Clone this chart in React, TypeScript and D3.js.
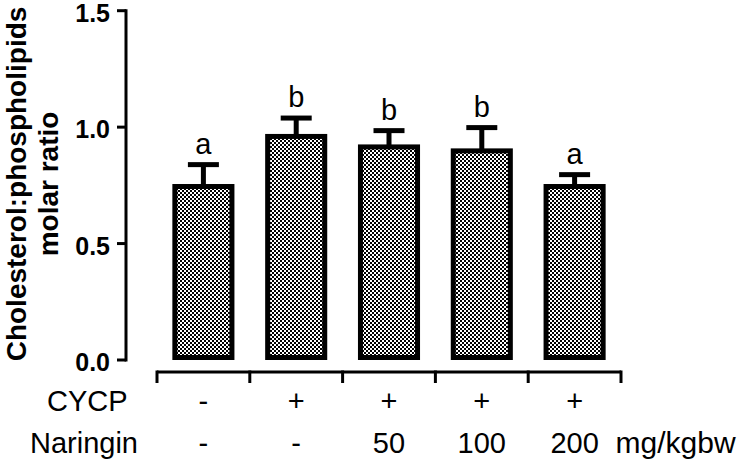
import React, { useEffect, useRef } from "react";
import * as d3 from "d3";

const groups = ["g1", "g2", "g3", "g4", "g5"];
const means = [0.745, 0.96, 0.915, 0.898, 0.745];
const sems = [0.094, 0.079, 0.07, 0.1, 0.051];
const letters = ["a", "b", "b", "b", "a"];
const cycpRow = ["-", "+", "+", "+", "+"];
const naringinRow = ["-", "-", "50", "100", "200"];
const yTicks = [0, 0.5, 1.0, 1.5];

const App = () => {
  const ref = useRef<SVGSVGElement>(null);

  useEffect(() => {
    const width = 750;
    const height = 463;
    const svg = d3.select(ref.current);
    svg.selectAll("*").remove();
    svg.attr("width", width).attr("height", height);

    const font = "Arial, 'Liberation Sans', sans-serif";

    // checkerboard fill
    const defs = svg.append("defs");
    const pat = defs
      .append("pattern")
      .attr("id", "checker")
      .attr("patternUnits", "userSpaceOnUse")
      .attr("width", 4)
      .attr("height", 4);
    pat.append("rect").attr("width", 4).attr("height", 4).attr("fill", "#fff");
    pat.append("rect").attr("width", 2).attr("height", 2).attr("fill", "#000");
    pat
      .append("rect")
      .attr("x", 2)
      .attr("y", 2)
      .attr("width", 2)
      .attr("height", 2)
      .attr("fill", "#000");

    const y = d3.scaleLinear().domain([0, 1.5]).range([360, 10.7]);
    const x = d3.scaleBand().domain(groups).range([157, 621]).padding(0);
    const barW = x.bandwidth() * 0.615;
    const cx = (g: string) => (x(g) as number) + x.bandwidth() / 2;

    // Y axis
    const axisX = 126;
    const ya = svg.append("g");
    ya.append("line")
      .attr("x1", axisX)
      .attr("x2", axisX)
      .attr("y1", y(1.5) - 1.5)
      .attr("y2", y(0) + 1.5)
      .attr("stroke", "#000")
      .attr("stroke-width", 3);
    ya.selectAll("line.tick")
      .data(yTicks)
      .enter()
      .append("line")
      .attr("class", "tick")
      .attr("x1", axisX - 9)
      .attr("x2", axisX)
      .attr("y1", (d) => y(d))
      .attr("y2", (d) => y(d))
      .attr("stroke", "#000")
      .attr("stroke-width", 3);
    ya.selectAll("text")
      .data(yTicks)
      .enter()
      .append("text")
      .attr("x", 110)
      .attr("y", (d) => y(d))
      .attr("dy", "0.44em")
      .attr("text-anchor", "end")
      .attr("font-family", font)
      .attr("font-weight", "bold")
      .attr("font-size", 25)
      .text((d) => d3.format(".1f")(d));

    // Y title
    const title = svg
      .append("text")
      .attr("transform", "translate(0,184) rotate(-90)")
      .attr("text-anchor", "middle")
      .attr("font-family", font)
      .attr("font-weight", "bold")
      .attr("font-size", 28);
    title.append("tspan").attr("x", 0).attr("y", 26).text("Cholesterol:phospholipids");
    title.append("tspan").attr("x", 0).attr("y", 58).text("molar ratio");

    // X axis
    const axY = 372;
    const [r0, r1] = x.range();
    svg
      .append("line")
      .attr("x1", r0)
      .attr("x2", r1)
      .attr("y1", axY)
      .attr("y2", axY)
      .attr("stroke", "#000")
      .attr("stroke-width", 3);
    const bounds = groups.map((g) => x(g) as number).concat([r1]);
    svg
      .selectAll("line.xtick")
      .data(bounds)
      .enter()
      .append("line")
      .attr("class", "xtick")
      .attr("x1", (d) => d)
      .attr("x2", (d) => d)
      .attr("y1", axY - 1.5)
      .attr("y2", axY + 11)
      .attr("stroke", "#000")
      .attr("stroke-width", 3);

    // Error bars
    const eb = svg.append("g");
    groups.forEach((g, i) => {
      const top = y(means[i] + sems[i]);
      eb.append("line")
        .attr("x1", cx(g))
        .attr("x2", cx(g))
        .attr("y1", y(means[i]))
        .attr("y2", top)
        .attr("stroke", "#000")
        .attr("stroke-width", 5);
      eb.append("line")
        .attr("x1", cx(g) - 15.5)
        .attr("x2", cx(g) + 15.5)
        .attr("y1", top)
        .attr("y2", top)
        .attr("stroke", "#000")
        .attr("stroke-width", 5);
    });

    // Bars
    svg
      .selectAll("rect.bar")
      .data(groups)
      .enter()
      .append("rect")
      .attr("class", "bar")
      .attr("x", (g) => cx(g) - barW / 2)
      .attr("y", (g, i) => y(means[i]))
      .attr("width", barW)
      .attr("height", (g, i) => y(0) - y(means[i]) - 2.5)
      .attr("fill", "url(#checker)")
      .attr("stroke", "#000")
      .attr("stroke-width", 5);

    // Significance letters
    svg
      .selectAll("text.sig")
      .data(groups)
      .enter()
      .append("text")
      .attr("class", "sig")
      .attr("x", (g) => cx(g))
      .attr("y", (g, i) => y(means[i] + sems[i]) - 11)
      .attr("text-anchor", "middle")
      .attr("font-family", font)
      .attr("font-size", 29)
      .text((g, i) => letters[i]);

    // Bottom table
    const fs = 29;
    const row = (label: string, lx: number, vals: string[], by: number) => {
      svg
        .append("text")
        .attr("x", lx)
        .attr("y", by)
        .attr("font-family", font)
        .attr("font-size", fs)
        .text(label);
      svg
        .selectAll(null)
        .data(groups)
        .enter()
        .append("text")
        .attr("x", (g) => cx(g))
        .attr("y", by)
        .attr("text-anchor", "middle")
        .attr("font-family", font)
        .attr("font-size", fs)
        .text((g, i) => vals[i]);
    };
    row("CYCP", 47, cycpRow, 411);
    row("Naringin", 30, naringinRow, 453);

    const last = groups[groups.length - 1];
    svg
      .append("text")
      .attr("x", cx(last) + 41)
      .attr("y", 453)
      .attr("font-family", font)
      .attr("font-size", 30)
      .text("mg/kgbw");
  }, []);

  return (
    <svg
      ref={ref}
      style={{ display: "block", position: "absolute", left: 0, top: 0 }}
    />
  );
};

export default App;
